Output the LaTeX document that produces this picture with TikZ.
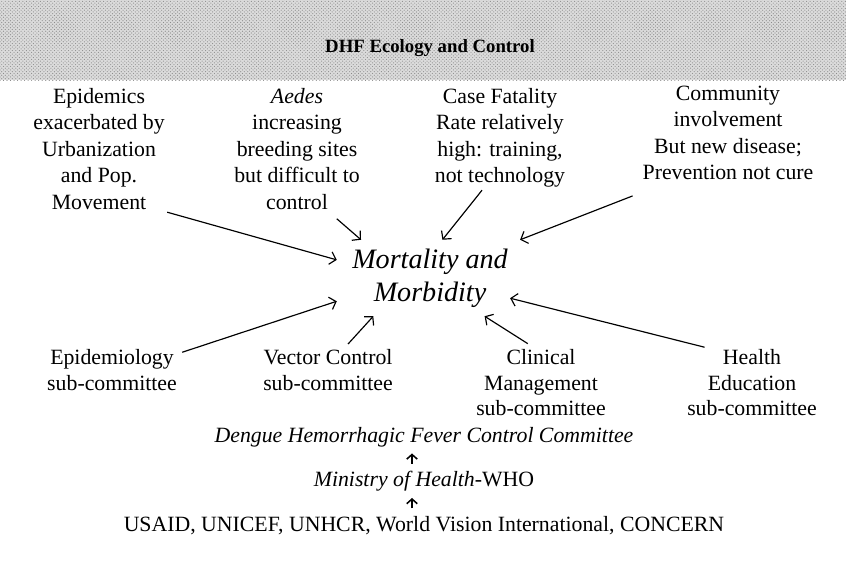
\documentclass[tikz,border=0pt]{standalone}
\usepackage{fontspec}
\setmainfont{Liberation Serif}
\usetikzlibrary{positioning,arrows.meta,patterns}

\begin{document}
\begin{tikzpicture}[%
        x=0.03cm, y=-0.03cm,
        node distance=0.58cm,
        every node/.style={inner sep=2pt},
        txt/.style={%
          align=center,
          font=\fontsize{18.6}{22.6}\selectfont
        },
        sub/.style={%
          align=center,
          font=\fontsize{18.6}{21.8}\selectfont
        },
        hub/.style={%
          align=center,
          inner sep=0pt,
          minimum width=5.58cm,
          minimum height=2.28cm,
          font=\fontsize{24}{28.2}\selectfont\itshape
        },
        arr/.style={-{Straight Barb[length=5pt,width=11pt]},line width=1pt},
        uparr/.style={-{Straight Barb[length=4pt,width=9pt]},line width=1.3pt,
          shorten >=0.12cm,shorten <=0.15cm}
      ]
      \useasboundingbox (0,0) rectangle (846,562);
      % title band
      \path[preaction={fill=black!14},pattern=crosshatch dots,pattern color=black!45]
        (0,0) rectangle (846,80);
      \node[font=\fontsize{16}{19}\selectfont\bfseries] (title) at (430,48) {DHF Ecology and Control};

      \node[txt] (epi) at (99,149) {Epidemics\\exacerbated by\\Urbanization\\and Pop.\\Movement};
      \node[txt] (aed) at (297,149) {\textit{Aedes}\\increasing\\breeding sites\\but difficult to\\control};
      \node[txt] (cfr) at (500,138) {Case Fatality\\Rate relatively\\high: training,\\not technology};
      \node[txt] (com) at (728,133) {Community\\involvement\\But new disease;\\Prevention not cure};

      \node[hub] (mm) at (430,278) {Mortality and\\Morbidity};

      \node[sub] (esc) at (112,370) {Epidemiology\\sub-committee};
      \node[sub] (vsc) at (328,370) {Vector Control\\sub-committee};
      \node[sub] (csc) at (541,383) {Clinical\\Management\\sub-committee};
      \node[sub] (hsc) at (752,383) {Health\\Education\\sub-committee};

      \node[txt,font=\fontsize{18.6}{22.6}\selectfont\itshape] (dhf) at (424,437) {Dengue Hemorrhagic Fever Control Committee};
      \node[txt] (moh) [below=of dhf] {\textit{Ministry of Health}-WHO};
      \node[txt] (don) [below=of moh] {USAID, UNICEF, UNHCR, World Vision International, CONCERN};

      \path (epi.south east) edge [arr] (mm.169)
      (aed.-63) edge [arr,shorten <=0.3cm] (mm.151)
      (cfr.251) edge [arr] (mm.72)
      (com.219) edge [arr,shorten <=1.1cm] (mm.23)
      (esc.14) edge [arr,shorten <=0.09cm] (mm.194)
      (vsc.53) edge [arr,shorten <=0.12cm] (mm.214)
      (csc.102) edge [arr,shorten <=0.2cm] (mm.325)
      (hsc.143) edge [arr,shorten >=2.48cm] (mm.center);

      \path ([xshift=-0.36cm]moh.north) edge [uparr] ([xshift=-0.36cm]dhf.south)
      ([xshift=-0.36cm]don.north) edge [uparr] ([xshift=-0.36cm]moh.south);
    \end{tikzpicture}
\end{document}
